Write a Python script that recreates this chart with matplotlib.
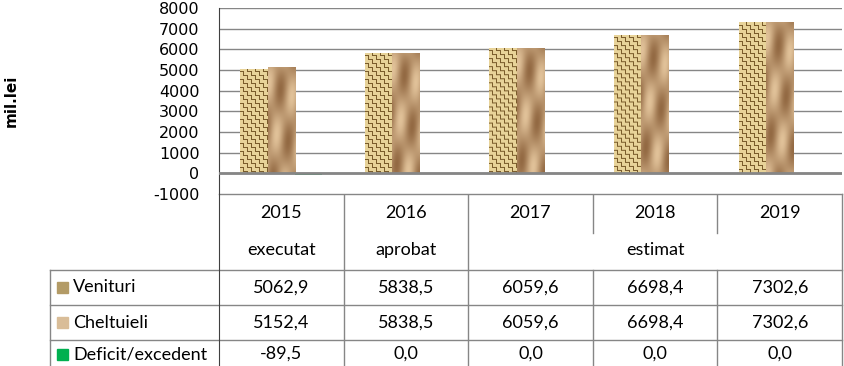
import matplotlib.pyplot as plt
import numpy as np
from matplotlib.patches import Rectangle

years = ['2015', '2016', '2017', '2018', '2019']
stages = ['executat', 'aprobat', 'estimat']
stage_span = [(0, 0), (1, 1), (2, 4)]  # columns covered by each stage label
series = ['Venituri', 'Cheltuieli', 'Deficit/excedent']
venituri = [5062.9, 5838.5, 6059.6, 6698.4, 7302.6]
cheltuieli = [5152.4, 5838.5, 6059.6, 6698.4, 7302.6]
deficit = [-89.5, 0.0, 0.0, 0.0, 0.0]

W, H = 844, 366
grid_c = '#868686'
tfont = 'Lato'
plt.rcParams['axes.unicode_minus'] = False


def burlap(h, w):
    # woven sack look
    yy, xx = np.mgrid[0:h, 0:w]
    cell = ((yy // 4) + (xx // 4)) % 2
    thread = np.where(cell == 0, (yy % 4) < 3, (xx % 4) < 3)
    light = np.array([0.91, 0.83, 0.60])
    dark = np.array([0.48, 0.36, 0.17])
    img = np.where(thread[..., None], light, dark)
    return img


def paper(h, w):
    # crumpled brown paper look
    yy, xx = np.mgrid[0:h, 0:w].astype(float)
    v = 0.55 + 0.22 * np.sin(0.09 * yy + 0.22 * xx) + 0.18 * np.sin(0.045 * yy - 0.3 * xx + 1.0)
    v = np.clip(v, 0, 1)[..., None]
    light = np.array([0.90, 0.78, 0.62])
    dark = np.array([0.52, 0.35, 0.20])
    return dark + (light - dark) * v


fig = plt.figure(figsize=(W / 100, H / 100), dpi=100)
ax = fig.add_axes([219 / W, 1 - 194 / H, (842 - 219) / W, (194 - 8) / H])

x = np.arange(len(years))
bw = 0.22
px_per_unit = 186 / 9000
for vals, off, tex in [(venituri, -bw, burlap), (cheltuieli, 0, paper)]:
    bars = ax.bar(x + off, vals, bw, color='#c8a878', zorder=2)
    for b, v in zip(bars, vals):
        hpx = max(int(round(v * px_per_unit)), 1)
        im = ax.imshow(tex(hpx, 28), extent=[b.get_x(), b.get_x() + bw, 0, v],
                       aspect='auto', interpolation='bilinear', zorder=3)
        im.set_clip_path(b)
ax.bar(x + bw, deficit, bw, color='#00b050', zorder=2)

ax.set_xlim(-0.5, len(years) - 0.5)
ax.set_ylim(-1000, 8000)
ax.set_yticks(np.arange(-1000, 8001, 1000))
ax.set_xticks([])
ax.grid(axis='y', color=grid_c, linewidth=1, zorder=0)
ax.axhline(0, color=grid_c, linewidth=2, zorder=4)
ax.tick_params(axis='y', length=0, pad=14, labelsize=11.5)
for s in ['top', 'right', 'bottom']:
    ax.spines[s].set_visible(False)
ax.spines['left'].set_color('#404040')
ax.spines['left'].set_linewidth(0.8)
fig.text(11 / W, 1 - 101 / H, 'mil.lei', rotation=90, fontsize=11,
         fontweight='bold', ha='center', va='center')

# data table under the plot, in pixel coordinates
tab = fig.add_axes([0, 0, 1, 1], zorder=-1)
tab.set_xlim(0, W)
tab.set_ylim(H, 0)
tab.axis('off')
edges = [ax.transData.transform((i - 0.5, 0))[0] for i in range(len(years) + 1)]
centers = [(a + b) / 2 for a, b in zip(edges[:-1], edges[1:])]
lw = 1
tab.plot([edges[0], edges[-1]], [194, 194], color=grid_c, lw=lw)
for yl in [270, 305, 340]:
    tab.plot([50, edges[-1]], [yl, yl], color=grid_c, lw=lw)
tab.plot([50, 50], [270, H], color=grid_c, lw=lw)
tab.plot([edges[0], edges[0]], [194, H], color='#404040', lw=0.8)
for i, e in enumerate(edges[1:], start=1):
    if i in (3, 4):
        tab.plot([e, e], [194, 233], color=grid_c, lw=lw)
        tab.plot([e, e], [270, H], color=grid_c, lw=lw)
    else:
        tab.plot([e, e], [194, H], color=grid_c, lw=lw)

fs = 13
for c, yr in zip(centers, years):
    tab.text(c, 213, yr, ha='center', va='center', fontsize=fs, family=tfont)
for lab, (a, b) in zip(stages, stage_span):
    tab.text((edges[a] + edges[b + 1]) / 2, 250, lab, ha='center', va='center',
             fontsize=fs, family=tfont)

row_y = [287.5, 322.5, 354]
key_cols = ['#b39b66', '#d9bd98', '#00b050']
for yc, name, vals, kc in zip(row_y, series, [venituri, cheltuieli, deficit], key_cols):
    tab.add_patch(Rectangle((57, yc - 5.5), 11, 11, color=kc))
    tab.text(73, yc, name, ha='left', va='center', fontsize=fs, family=tfont)
    for c, v in zip(centers, vals):
        tab.text(c, yc, f'{v:.1f}'.replace('.', ','), ha='center', va='center',
                 fontsize=fs, family=tfont)

fig.savefig('out.png', dpi=100)
